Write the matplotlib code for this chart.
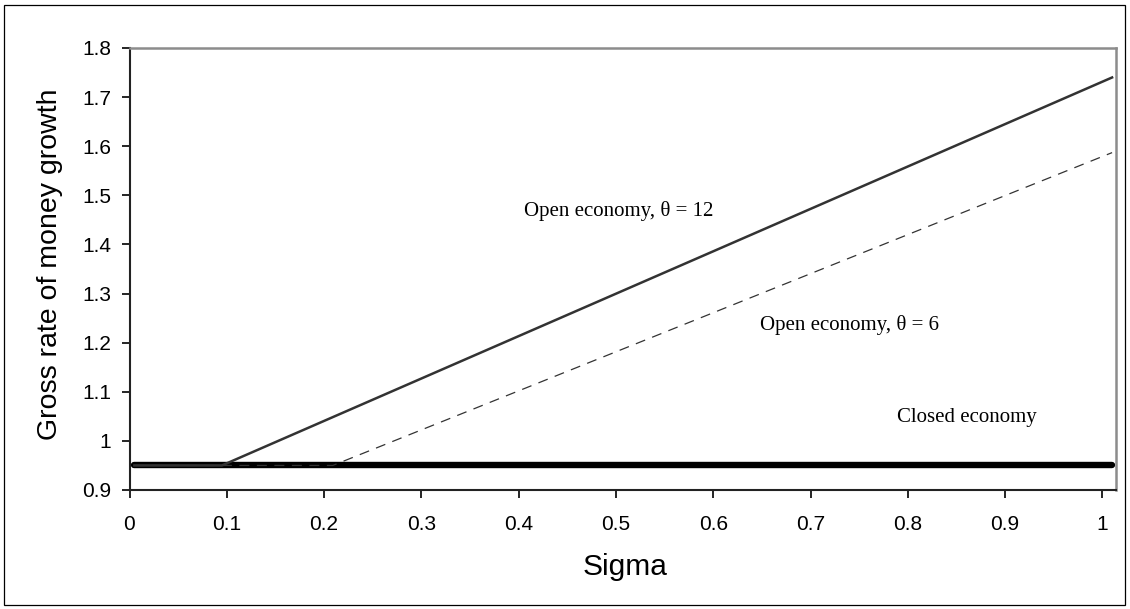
import matplotlib
matplotlib.use("Agg")
import matplotlib.pyplot as plt
from matplotlib.patches import Rectangle

# Data
sigma_closed = [0.005, 1.01]
rate_closed = [0.95, 0.95]

sigma_open12 = [0.005, 0.095, 1.01]
rate_open12 = [0.95, 0.95, 1.74]

sigma_open6 = [0.005, 0.209, 1.01]
rate_open6 = [0.95, 0.95, 1.587]

x_ticks = [0, 0.1, 0.2, 0.3, 0.4, 0.5, 0.6, 0.7, 0.8, 0.9, 1.0]
x_tick_labels = ["0", "0.1", "0.2", "0.3", "0.4", "0.5", "0.6", "0.7", "0.8", "0.9", "1"]
y_ticks = [0.9, 1.0, 1.1, 1.2, 1.3, 1.4, 1.5, 1.6, 1.7, 1.8]
y_tick_labels = ["0.9", "1", "1.1", "1.2", "1.3", "1.4", "1.5", "1.6", "1.7", "1.8"]

annotations = [
    ("Open economy, \u03b8 = 12", 0.405, 1.468),
    ("Open economy, \u03b8 = 6", 0.648, 1.235),
    ("Closed economy", 0.789, 1.047),
]

W, H = 1130, 609
fig = plt.figure(figsize=(W / 100, H / 100), dpi=100)
fig.patch.set_facecolor("white")

# outer frame
fig.add_artist(Rectangle((4 / W, 4 / H), (W - 9) / W, (H - 9) / H,
                         transform=fig.transFigure, fill=False,
                         edgecolor="black", linewidth=0.9))

left, right, top, bottom = 129.5, 1115.5, 48, 490
ax = fig.add_axes([left / W, (H - bottom) / H, (right - left) / W, (bottom - top) / H])

ax.plot(sigma_closed, rate_closed, color="black", lw=4.6, solid_capstyle="round", zorder=2)
ax.plot(sigma_open12, rate_open12, color="#333333", lw=1.8, zorder=3)
ax.plot(sigma_open6, rate_open6, color="#333333", lw=0.9, dashes=(8, 6), zorder=4)

ax.set_xlim(0, 1.0135)
ax.set_ylim(0.9, 1.8)
ax.set_xticks(x_ticks)
ax.set_xticklabels(x_tick_labels)
ax.set_yticks(y_ticks)
ax.set_yticklabels(y_tick_labels)

sans = ["Liberation Sans", "DejaVu Sans"]
serif = ["Liberation Serif", "DejaVu Serif"]
for lab in ax.get_xticklabels() + ax.get_yticklabels():
    lab.set_fontfamily(sans)
    lab.set_fontsize(15)

ax.tick_params(axis="x", direction="out", length=6, width=1.2, pad=12, color="black")
ax.tick_params(axis="y", direction="out", length=6, width=1.2, pad=7, color="black")

for s in ["left", "bottom"]:
    ax.spines[s].set_color("#222222")
    ax.spines[s].set_linewidth(1.5)
for s in ["top", "right"]:
    ax.spines[s].set_color("#8c8c8c")
    ax.spines[s].set_linewidth(1.8)

for txt, x, y in annotations:
    ax.text(x, y, txt, family=serif, fontsize=15, ha="left", va="center")

fig.text(625 / W, 1 - 567 / H, "Sigma", family=sans, fontsize=21.5, ha="center", va="center")
fig.text(50 / W, 1 - 264.5 / H, "Gross rate of money growth", family=sans, fontsize=20.5,
         ha="center", va="center", rotation=90)

fig.savefig("out.png", dpi=100)
